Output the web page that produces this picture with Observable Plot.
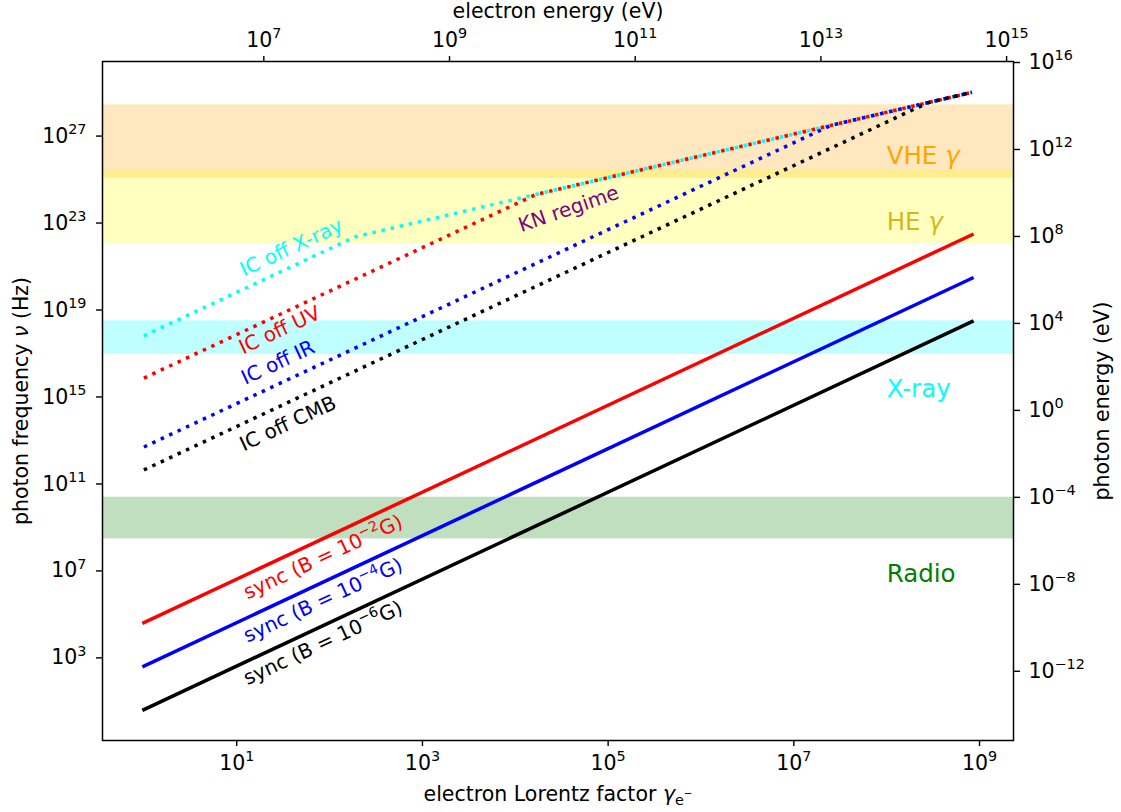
<!DOCTYPE html>
<html>
<head>
<meta charset="utf-8">
<script src="https://cdn.jsdelivr.net/npm/d3@7"></script>
<script src="https://cdn.jsdelivr.net/npm/@observablehq/plot@0.6"></script>
<style>
  html, body { margin: 0; padding: 0; background: #ffffff; }
  #chart svg { display: block; }
</style>
</head>
<body>
<div id="chart"></div>
<script>
// ---------------- data ----------------
const gammaRange = [1, 8.3e8];               // electron Lorentz factor span of every curve

const syncNames   = ["sync (B = 10⁻²G)", "sync (B = 10⁻⁴G)", "sync (B = 10⁻⁶G)"];
const syncNuStart = [4.2e4, 4.2e2, 4.2];     // Hz at gamma = 1
const syncNuEnd   = [2.9e22, 2.9e20, 2.9e18];// Hz at gamma end

const icNames     = ["IC off X-ray", "IC off UV", "IC off IR", "IC off CMB"];
const icNuStart   = [6.5e17, 7.4e15, 5.0e12, 4.4e11];
const icGammaKink = [190, 1.67e4, 2.5e7, 2.8e8];
const icNuKink    = [2.35e22, 2.06e24, 3.09e27, 3.46e28];
const icNuEnd     = [1.03e29, 1.03e29, 1.03e29, 1.03e29];

const bandNames = ["VHE γ", "HE γ", "X-ray", "Radio"];
const bandLow   = [1.12e25, 1.15e22, 9.1e16, 2.95e8];
const bandHigh  = [2.75e28, 2.8e25, 3.16e18, 2.45e10];
const bandLabelGamma = [1e8, 1e8, 1e8, 1e8];
const bandLabelNu    = [5e25, 5e22, 1e15, 3e6];

const icLabelGamma   = [38.8, 29, 27.8, 35.6];
const icLabelNu      = [7.4e21, 1.17e18, 3.8e16, 5.9e13];
const syncLabelGamma = [85, 85, 85];
const syncLabelNu    = [4.3e7, 4.4e5, 4.8e3];
const knLabelText  = ["KN regime"];
const knLabelGamma = [3.76e4];
const knLabelNu    = [4.4e23];

const bottomTickExp = [1, 3, 5, 7, 9];            // gamma
const leftTickExp   = [3, 7, 11, 15, 19, 23, 27]; // Hz
const topTickExp    = [7, 9, 11, 13, 15];         // eV (electron energy)
const rightTickExp  = [16, 12, 8, 4, 0, -4, -8, -12]; // eV (photon energy)

const xTitle = "electron Lorentz factor γₑ⁻";
const yTitle = "photon frequency ν (Hz)";
const topTitle = "electron energy (eV)";
const rightTitle = "photon energy (eV)";

const MEC2 = 510998.95;       // eV
const H_EV = 4.135667696e-15; // eV s

// ---------------- styles ----------------
const syncColors = ["red", "blue", "black"];
const icColors   = ["cyan", "red", "blue", "black"];
const bandFill   = ["orange", "yellow", "cyan", "green"];
const bandText   = ["orange", "#d4b81a", "cyan", "green"];
const FS = 20.5;   // tick labels
const FT = 20.5;   // axis titles

// ---------------- tables ----------------
const syncRows = syncNames.map((n, i) => [
  {g: gammaRange[0], nu: syncNuStart[i]},
  {g: gammaRange[1], nu: syncNuEnd[i]}
]);
const icRows = icNames.map((n, i) => [
  {g: gammaRange[0], nu: icNuStart[i]},
  {g: icGammaKink[i], nu: icNuKink[i]},
  {g: gammaRange[1], nu: icNuEnd[i]}
]);
const bands = bandNames.map((n, i) => ({name: n, lo: bandLow[i], hi: bandHigh[i], g: bandLabelGamma[i], nu: bandLabelNu[i], i}));

const supMap = {"0":"⁰","1":"¹","2":"²","3":"³","4":"⁴","5":"⁵","6":"⁶","7":"⁷","8":"⁸","9":"⁹","-":"⁻"};
const pow = k => "10" + String(k).split("").map(c => supMap[c]).join("");

const xDomain = [10 ** -0.446, 10 ** 9.366];
const yDomain = [10 ** -0.80, 10 ** 30.43];

const marks = [];
bands.forEach(b => marks.push(Plot.rect([b], {
  x1: () => xDomain[0], x2: () => xDomain[1], y1: "lo", y2: "hi",
  fill: bandFill[b.i], fillOpacity: 0.25
})));
icRows.forEach((rows, i) => marks.push(Plot.line(rows, {
  x: "g", y: "nu", stroke: icColors[i], strokeWidth: 3.5,
  strokeDasharray: "3.5,5.8", strokeLinecap: "butt"
})));
syncRows.forEach((rows, i) => marks.push(Plot.line(rows, {
  x: "g", y: "nu", stroke: syncColors[i], strokeWidth: 3.5, strokeLinecap: "square"
})));
// band labels
bands.forEach(b => marks.push(Plot.text([b], {
  x: "g", y: "nu", text: "name", fill: bandText[b.i], fontSize: 24.5,
  textAnchor: "start", lineAnchor: "bottom"
})));
// curve labels
icNames.forEach((n, i) => marks.push(Plot.text([n], {
  x: () => icLabelGamma[i], y: () => icLabelNu[i], text: d => d, fill: icColors[i],
  fontSize: 20, rotate: -25, textAnchor: "middle", lineAnchor: "middle"
})));
syncNames.forEach((n, i) => marks.push(Plot.text([n], {
  x: () => syncLabelGamma[i], y: () => syncLabelNu[i], text: d => d, fill: syncColors[i],
  fontSize: 20, rotate: -25, textAnchor: "middle", lineAnchor: "middle"
})));
marks.push(Plot.text(knLabelText, {
  x: () => knLabelGamma[0], y: () => knLabelNu[0], text: d => d, fill: "purple",
  fontSize: 20, rotate: -19, textAnchor: "middle", lineAnchor: "middle"
}));
// axes
marks.push(Plot.axisX({anchor: "bottom", ticks: bottomTickExp.map(e => 10 ** e),
  tickFormat: d => pow(Math.round(Math.log10(d))), tickSize: 6, tickPadding: 9,
  label: null, fontSize: FS, strokeWidth: 1.4}));
marks.push(Plot.axisX({anchor: "top", ticks: topTickExp.map(e => 10 ** e / MEC2),
  tickFormat: () => "", tickSize: 6, tickPadding: 8,
  label: null, fontSize: FS, strokeWidth: 1.4}));
marks.push(Plot.text(topTickExp, {
  x: e => 10 ** e / MEC2, frameAnchor: "top", dy: -15, text: e => pow(e),
  textAnchor: "middle", lineAnchor: "bottom", fontSize: FS
}));
marks.push(Plot.axisY({anchor: "left", ticks: leftTickExp.map(e => 10 ** e),
  tickFormat: d => pow(Math.round(Math.log10(d))), tickSize: 6, tickPadding: 10,
  label: null, fontSize: FS, strokeWidth: 1.4}));
marks.push(Plot.axisY({anchor: "right", ticks: rightTickExp.map(e => 10 ** e / H_EV),
  tickFormat: d => pow(Math.round(Math.log10(d * H_EV))), tickSize: 6, tickPadding: 9,
  label: null, fontSize: FS, strokeWidth: 1.4}));
// axis titles
marks.push(Plot.text([xTitle], {text: d => d, frameAnchor: "bottom", dy: 60, textAnchor: "middle", lineAnchor: "bottom", fontSize: FT}));
marks.push(Plot.text([topTitle], {text: d => d, frameAnchor: "top", dy: -44, textAnchor: "middle", lineAnchor: "bottom", fontSize: FT}));
marks.push(Plot.text([yTitle], {text: d => d, frameAnchor: "left", dx: -75, rotate: -90, textAnchor: "middle", lineAnchor: "bottom", fontSize: FT}));
marks.push(Plot.text([rightTitle], {text: d => d, frameAnchor: "right", dx: 95, rotate: -90, textAnchor: "middle", lineAnchor: "bottom", fontSize: FT}));
marks.push(Plot.frame({stroke: "black", strokeWidth: 1.5}));

const svg = Plot.plot({
  width: 1121, height: 812,
  marginLeft: 102, marginRight: 108, marginTop: 61, marginBottom: 72,
  x: {type: "log", domain: xDomain},
  y: {type: "log", domain: yDomain},
  style: {fontFamily: "DejaVu Sans", fontSize: FS + "px", background: "white", color: "black"},
  marks
});
document.getElementById("chart").appendChild(svg);

// ---------- rich text: italic greek, superscripts, subscripts ----------
const supRev = {};
Object.entries(supMap).forEach(([a, b]) => supRev[b] = a === "-" ? "−" : a);
const NS = "http://www.w3.org/2000/svg";
svg.querySelectorAll("text").forEach(el => {
  const s = el.textContent;
  if (!/[⁰¹²³⁴⁵⁶⁷⁸⁹⁻ₑγν]/.test(s)) return;
  const fs = parseFloat(getComputedStyle(el).fontSize);
  const tokens = [];
  let mode = null, buf = "";
  for (const ch of s) {
    let m = "n", c = ch;
    if (supRev[ch] !== undefined) { m = "sup"; c = supRev[ch]; }
    else if (ch === "ₑ") { m = "sub"; c = "e"; }
    else if (ch === "γ" || ch === "ν") m = "it";
    if (m !== mode) { if (buf) tokens.push([mode, buf]); mode = m; buf = ""; }
    buf += c;
  }
  if (buf) tokens.push([mode, buf]);
  el.textContent = "";
  let cur = 0, prev = null;
  for (const [m, t] of tokens) {
    let target = 0, size = fs, italic = false;
    if (m === "sup") {
      if (prev === "sub") { target = -0.18 * fs; size = 0.5 * fs; }
      else { target = -0.42 * fs; size = 0.7 * fs; }
    } else if (m === "sub") { target = 0.2 * fs; size = 0.7 * fs; }
    else if (m === "it") italic = true;
    const ts = document.createElementNS(NS, "tspan");
    if (Math.abs(target - cur) > 1e-6) ts.setAttribute("dy", (target - cur).toFixed(2));
    if (size !== fs) ts.setAttribute("font-size", size.toFixed(2));
    if (italic) ts.setAttribute("font-style", "italic");
    ts.textContent = t;
    el.appendChild(ts);
    cur = target; prev = m;
  }
});
</script>
</body>
</html>
